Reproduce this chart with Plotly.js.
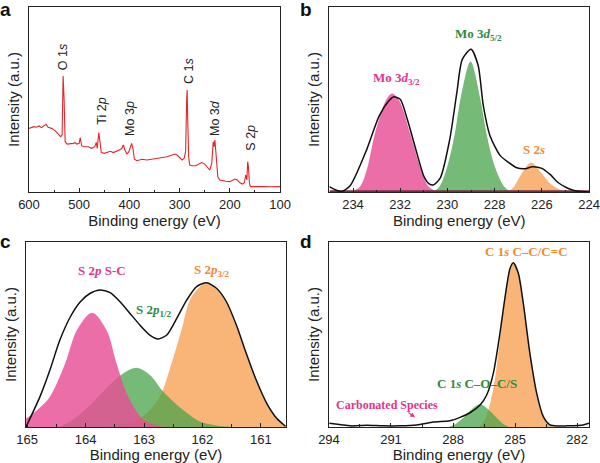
<!DOCTYPE html>
<html><head><meta charset="utf-8">
<script src="https://cdn.plot.ly/plotly-3.0.1.min.js"></script>
<style>html,body{margin:0;padding:0;background:#fff}</style>
</head><body><div id="chart" style="width:600px;height:463px"></div>
<script>
// ---------- Panel a: survey spectrum ----------
const surveyE = [600,595,590,585,580,575,570,566,562,555,548,542,537,534,532,530,528,524,518,512,508,505,500,498,495,490,482,475,469,466,464,461,459,456,450,444,438,432,426,420,415,412,409,405,401,398,395.5,393,390,385,375,365,355,345,335,325,315,310,305,300,295,291,288,286,285,284,282,280,275,268,262,256,250,245,240,236,233,231.5,229.7,227,224,220,215,208,200,195,190,185,180,175,171,168.4,166,164.4,163,161,159,150,140,130,120,110,100];
const surveyI = [34.4,34.8,35.3,35.0,35.7,34.8,35.7,36.6,35.0,34.4,33.2,31.7,29.9,30.8,62.7,49.7,27.2,25.9,25.9,26.3,26.7,25.9,26.3,29.4,24.9,24.5,24.5,23.6,24.5,26.8,23.6,32.1,28.1,21.3,20.9,21.3,22.0,21.3,21.8,22.7,23.6,25.4,22.7,20.5,21.8,24.9,26.3,23.6,17.7,16.9,17.7,17.3,17.8,18.0,18.7,19.1,20.0,20.5,20.0,18.7,17.3,18.2,21.8,49.7,55.1,40.7,19.1,14.6,14.2,14.2,15.1,15.9,15.1,13.2,11.9,15.5,27.2,24.5,28.1,19.1,8.3,6.5,6.1,5.8,5.6,6.1,7.0,6.5,5.0,4.3,5.0,9.2,6.5,16.4,13.7,5.0,2.9,2.9,2.7,2.9,2.8,2.9,2.9];
const surveyLabels = ["O 1<i>s</i>","Ti 2<i>p</i>","Mo 3<i>p</i>","C 1<i>s</i>","Mo 3<i>d</i>","S 2<i>p</i>"];
const surveyLabelE = [531.7,455.2,398.8,281.3,229.5,158.4];
const surveyLabelI = [73,43.8,39.5,65.4,40,29.2];

// ---------- Panel b: Mo 3d ----------
const moEnvE = [235.0,234.75,234.5,234.13,233.42,232.9,232.5,232.29,232.0,231.7,231.3,231.0,230.8,230.6,230.3,229.9,229.6,229.37,229.0,228.7,228.48,228.2,227.77,227.4,227.06,226.7,226.4,226.0,225.65,225.3,224.94,224.7,224.5,224.0];
const moEnvI = [2.9,1.2,0.3,3.2,22.9,40.9,49.0,51.4,50.1,39.3,21.3,8.6,4.7,3.8,7.7,28.5,53.7,71.7,77.1,68.5,46.8,30.6,19.8,15.9,13.1,12.6,13.7,12.8,9.5,5.0,2.3,1.1,0.5,0];
const mo32E = [234.1,233.7,233.38,233.07,232.6,232.35,232.05,231.58,231.16,230.8,230.4];
const mo32I = [0,3,13.7,31.7,49.7,53.3,49.7,31.7,13.7,3,0];
const mo52E = [230.6,230.33,230.0,229.68,229.45,229.02,228.6,228.35,228.0,227.6,227.3];
const mo52I = [0,3,14,32,50,70.5,50,32,14,3,0];
const s2sE = [227.5,227.2,226.9,226.45,226.0,225.6,225.1,224.9];
const s2sI = [0,2.5,9,16,10,4,0.5,0];
const baseBE = [235,224];
const baseBI = [0.4,0.4];

// ---------- Panel c: S 2p ----------
const s2pEnvE = [165.02,164.78,164.61,164.44,164.26,164.09,163.92,163.75,163.58,163.41,163.24,163.07,162.9,162.76,162.61,162.44,162.27,162.1,161.93,161.76,161.59,161.42,161.25,161.08,160.9,160.73,160.58];
const s2pEnvI = [0,16.4,30.8,47,59.6,67.7,72.3,74.1,72.6,67.7,61.4,55.1,49.7,47.6,49.7,58.7,68.6,75.9,78.0,75.0,67.7,55.1,39.8,25.4,12.8,4.7,0.4];
const sCE = [165.1,165.0,164.8,164.61,164.35,164.15,163.89,163.64,163.47,163.27,163.01,162.75,162.5];
const sCI = [3.5,5,10,16.4,34.3,52.3,61.8,52.3,34.3,16.4,4,0.5,0];
const s12E = [164.4,164.26,163.98,163.7,163.4,163.13,162.9,162.67,162.33,162.04,161.76,161.5];
const s12I = [1,3,10.1,19.1,28,32,28.1,19.1,9.2,2.9,0.8,0];
const s32E = [163.6,163.3,163.01,162.73,162.53,162.36,162.19,161.93,161.76,161.59,161.42,161.25,161.08,160.9,160.73,160.55];
const s32I = [0.5,2,6,16.4,34.3,52.3,70.3,78,74.5,67,54.5,39.5,25,12.5,4.5,0.3];

// ---------- Panel d: C 1s ----------
const c1sEnvE = [293.98,293.4,292.98,292.18,291.4,290.57,289.76,288.95,288.15,287.66,287.18,286.69,286.37,286.05,285.73,285.48,285.24,285.08,284.84,284.6,284.28,283.95,283.63,283.31,282.9,282.5,281.7,281.42];
const c1sEnvI = [2.0,1.2,0.6,0.9,0.6,0.6,1.1,2.7,3.4,5.2,7.7,11.9,17.3,29.0,50.6,70.4,85.8,88.8,83.1,66.9,39.8,18.2,5.6,1.1,0.5,0.6,1.1,2.0];
const ccE = [286.7,286.45,286.2,286.0,285.85,285.68,285.48,285.24,285.08,284.84,284.6,284.28,283.95,283.63,283.31,283.0];
const ccI = [0.3,4,13,24,36,52.4,70,85.5,88.8,83,66.7,39.6,18,5.4,0.9,0];
const coE = [288.2,287.9,287.5,287.1,286.69,286.3,285.89,285.55,285.3];
const coI = [0,1.5,5,9.5,12.4,9.5,5,1.5,0];

// ---------- styling ----------
const PINK='rgba(232,78,150,0.82)', GREEN='rgba(70,162,72,0.74)', ORANGE='rgba(248,165,90,0.82)';
const PINKT='#e3348b', GREENT='#2f8a3c', ORANGET='#f2892e';
const SANS='Liberation Sans, Arial, sans-serif', SERIF='Liberation Serif, Times New Roman, serif';

function fillTrace(x,y,color,xa,ya){
  return {x:x,y:y,xaxis:xa,yaxis:ya,type:'scatter',mode:'lines',fill:'tozeroy',fillcolor:color,
    line:{width:0,shape:'spline',smoothing:0.9,color:color},hoverinfo:'skip',showlegend:false};
}
function lineTrace(x,y,color,w,xa,ya,shape,sm){
  return {x:x,y:y,xaxis:xa,yaxis:ya,type:'scatter',mode:'lines',
    line:{width:w,color:color,shape:shape||'spline',smoothing:sm||0.7},hoverinfo:'skip',showlegend:false};
}

const traces = [
  lineTrace(surveyE,surveyI,'#e3262c',1.1,'x','y','linear'),
  fillTrace(mo32E,mo32I,PINK,'x2','y2'),
  fillTrace(s2sE,s2sI,ORANGE,'x2','y2'),
  fillTrace(mo52E,mo52I,GREEN,'x2','y2'),
  lineTrace(baseBE,baseBI,'#7d2c40',2.2,'x2','y2','linear'),
  lineTrace(moEnvE,moEnvI,'#111',1.5,'x2','y2'),
  fillTrace(s32E,s32I,ORANGE,'x3','y3'),
  fillTrace(s12E,s12I,GREEN,'x3','y3'),
  fillTrace(sCE,sCI,PINK,'x3','y3'),
  lineTrace(s2pEnvE,s2pEnvI,'#111',1.5,'x3','y3'),
  fillTrace(ccE,ccI,ORANGE,'x4','y4'),
  fillTrace(coE,coI,GREEN,'x4','y4'),
  lineTrace(c1sEnvE,c1sEnvI,'#111',1.5,'x4','y4')
];

function xax(domain,range,dtick,minor){
  return {domain:domain,range:range,autorange:false,dtick:dtick,tick0:0,ticks:'inside',ticklen:4,tickwidth:1,
    tickcolor:'#222',minor:{dtick:minor,ticks:'inside',ticklen:2.5,tickcolor:'#222'},
    showline:true,linecolor:'#222',linewidth:1.3,mirror:true,showgrid:false,zeroline:false,
    tickfont:{family:SANS,size:13,color:'#222'},
    title:{text:'Binding energy (eV)',font:{family:SANS,size:15,color:'#222'},standoff:1}};
}
function yax(domain,anchor){
  return {domain:domain,range:[0,100],autorange:false,anchor:anchor,showticklabels:false,ticks:'',
    showline:true,linecolor:'#222',linewidth:1.3,mirror:true,showgrid:false,zeroline:false,
    title:{text:'Intensity (a.u.)',font:{family:SANS,size:15,color:'#222'},standoff:4}};
}
const yTop=[0.5853,0.9849], yBot=[0.0778,0.4773];
const layout = {
  width:600,height:463,margin:{l:0,r:0,t:0,b:0},paper_bgcolor:'#fff',plot_bgcolor:'#fff',showlegend:false,
  xaxis: Object.assign(xax([0.0483,0.4667],[600,100],100,50),{anchor:'y'}),
  yaxis: yax(yTop,'x'),
  xaxis2:Object.assign(xax([0.549,0.9817],[235,224],2,1),{anchor:'y2'}),
  yaxis2:yax(yTop,'x2'),
  xaxis3:Object.assign(xax([0.0433,0.4767],[165.02,160.57],1,0.5),{anchor:'y3'}),
  yaxis3:yax(yBot,'x3'),
  xaxis4:Object.assign(xax([0.5483,0.9817],[294,281.42],3,1.5),{anchor:'y4',tick0:0}),
  yaxis4:yax(yBot,'x4'),
  annotations:[]
};
// panel letters
[['a',0,1],['b',0.5,1],['c',0,0.4995],['d',0.5,0.4995]].forEach(p=>{
  layout.annotations.push({text:'<b>'+p[0]+'</b>',xref:'paper',yref:'paper',x:p[1],y:p[2],xanchor:'left',yanchor:'top',
    showarrow:false,font:{family:SANS,size:19,color:'#111'},xshift:-2,yshift:3});
});
// survey labels
surveyLabels.forEach((t,i)=>{
  layout.annotations.push({text:t,x:surveyLabelE[i],y:surveyLabelI[i],xref:'x',yref:'y',textangle:-90,
    showarrow:false,font:{family:SANS,size:12.5,color:'#222'}});
});
function lab(t,x,y,xr,yr,c,s){
  layout.annotations.push({text:'<b>'+t+'</b>',x:x,y:y,xref:xr,yref:yr,showarrow:false,font:{family:SERIF,size:s||13,color:c}});
}
lab('Mo 3<i>d</i><sub>3/2</sub>',232.14,61.6,'x2','y2',PINKT);
lab('Mo 3<i>d</i><sub>5/2</sub>',228.7,84.9,'x2','y2',GREENT);
lab('S 2<i>s</i>',226.33,23.2,'x2','y2',ORANGET);
lab('S 2<i>p</i> S-C',163.72,84.4,'x3','y3',PINKT);
lab('S 2<i>p</i><sub>1/2</sub>',162.83,62.8,'x3','y3',GREENT);
lab('S 2<i>p</i><sub>3/2</sub>',161.84,84.4,'x3','y3',ORANGET);
lab('C 1<i>s</i> C\u2013C/C=C',284.44,94.8,'x4','y4',ORANGET);
lab('C 1<i>s</i> C\u2013O\u2013C/S',286.85,23.6,'x4','y4',GREENT);
lab('Carbonated Species',291.21,11.9,'x4','y4',PINKT,12);
layout.annotations.push({text:'',x:289.84,y:5.2,xref:'x4',yref:'y4',showarrow:true,ax:-8,ay:-6,
  arrowhead:2,arrowsize:0.8,arrowwidth:1.2,arrowcolor:PINKT});

Plotly.newPlot('chart',traces,layout,{staticPlot:true,displayModeBar:false});
</script></body></html>
